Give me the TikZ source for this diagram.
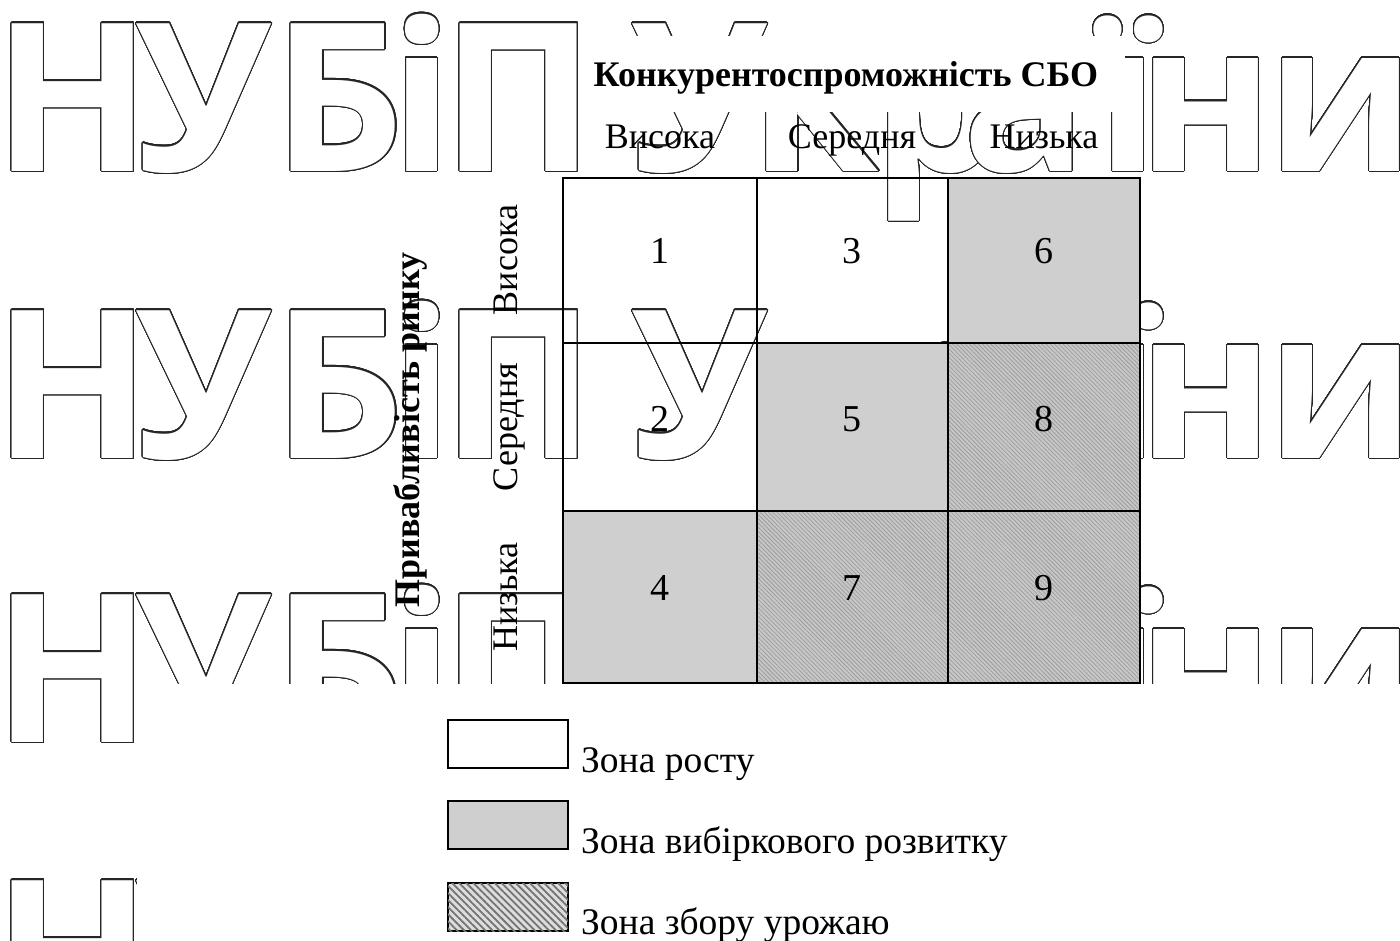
\documentclass[tikz,border=0pt]{standalone}
\usepackage{fontspec}
\usepackage{graphicx}
\setmainfont{Liberation Serif}
\newfontfamily\wmfont{Open Sans}
\usepackage[copies]{contour}
\contourlength{1.1pt}
\contournumber{32}
\usetikzlibrary{patterns.meta}

\definecolor{zonegray}{gray}{0.81}
\definecolor{harvestbase}{gray}{0.78}
\definecolor{harvestline}{gray}{0.62}
\definecolor{legendline}{gray}{0.45}
\definecolor{wmline}{gray}{0.15}

\tikzset{
  every node/.style={inner sep=0pt},
  gridline/.style={draw=black, line width=1.4pt},
  selectzone/.style={fill=zonegray},
  harvestzone/.style={fill=harvestbase,
    postaction={pattern={Lines[angle=-45,distance=3pt,line width=0.8pt]}, pattern color=harvestline}},
  legharvest/.style={fill=harvestbase!60!white,
    postaction={pattern={Lines[angle=-45,distance=5pt,line width=1.8pt]}, pattern color=legendline}},
  txt/.style={font=\fontsize{36}{40}\selectfont, anchor=base},
  legtxt/.style={font=\fontsize{37.5}{40}\selectfont, anchor=base west},
  boldtxt/.style={font=\bfseries\fontsize{36}{40}\selectfont, anchor=base},
  num/.style={font=\fontsize{38}{40}\selectfont, anchor=base},
  legbox/.style={draw=black, line width=1.4pt, minimum width=120pt, minimum height=48pt},
  wmletter/.style={anchor=base, font=\wmfont\bfseries\fontsize{207}{210}\selectfont},
}

\begin{document}
\begin{tikzpicture}[x=1pt,y=-1pt]
\useasboundingbox (0,0) rectangle (1400,940);
\fill[white] (0,0) rectangle (1400,940);

% background lettering, four rows
\foreach \by [count=\r] in {171,458,742,1028}{
  \foreach \ch/\cx [count=\i] in {Н/73, У/204, Б/339, і/422, П/519, У/700,
                                  к/815, р/938, а/1025, ї/1128, н/1206, и/1341}{
    \node[wmletter] (wm-\r-\i) at (\cx,\by) {\textcolor{white}{\contour{wmline}{\ch}}};
  }
}

% opaque areas behind the title and the legend
\fill[white] (582,36) rectangle (1125,112);
\fill[white] (137,684) rectangle (1420,960);

% shaded cells
\path[selectzone] (948,178) rectangle (1140,343);
\path[selectzone] (757,343) rectangle (948,511);
\path[selectzone] (563,511) rectangle (757,683);
\path[harvestzone] (948,343) rectangle (1140,511);
\path[harvestzone] (757,511) rectangle (948,683);
\path[harvestzone] (948,511) rectangle (1140,683);

% grid
\draw[gridline] (563,178) rectangle (1140,683);
\draw[gridline] (757,178) -- (757,683);
\draw[gridline] (948,178) -- (948,683);
\draw[gridline] (563,343) -- (1140,343);
\draw[gridline] (563,511) -- (1140,511);

% cell numbers
\node[num] (n1) at (660,263) {1};
\node[num] (n3) at (852,263) {3};
\node[num] (n6) at (1044,263) {6};
\node[num] (n2) at (660,431) {2};
\node[num] (n5) at (852,431) {5};
\node[num] (n8) at (1044,431) {8};
\node[num] (n4) at (660,600) {4};
\node[num] (n7) at (852,600) {7};
\node[num] (n9) at (1044,600) {9};

% axis titles and levels
\node[boldtxt] (xtitle) at (846,86) {Конкурентоспроможність СБО};
\node[txt] (c1) at (660,148) {Висока};
\node[txt] (c2) at (852,148) {Середня};
\node[txt] (c3) at (1044,148) {Низька};

\node[boldtxt, rotate=90] (ytitle) at (419,430) {Привабливість ринку};
\node[txt, rotate=90] (r1) at (517,260) {Висока};
\node[txt, rotate=90] (r2) at (517,427) {Середня};
\node[txt, rotate=90] (r3) at (517,597) {Низька};

% legend
\node[legbox] (k1) at (508,744) {};
\node[legbox, fill=zonegray] (k2) at (508,825) {};
\node[legbox, legharvest] (k3) at (508,907) {};
\node[legtxt] (t1) at (581,772) {Зона росту};
\node[legtxt] (t2) at (581,853) {Зона вибіркового розвитку};
\node[legtxt] (t3) at (581,934) {Зона збору урожаю};
\end{tikzpicture}
\end{document}
